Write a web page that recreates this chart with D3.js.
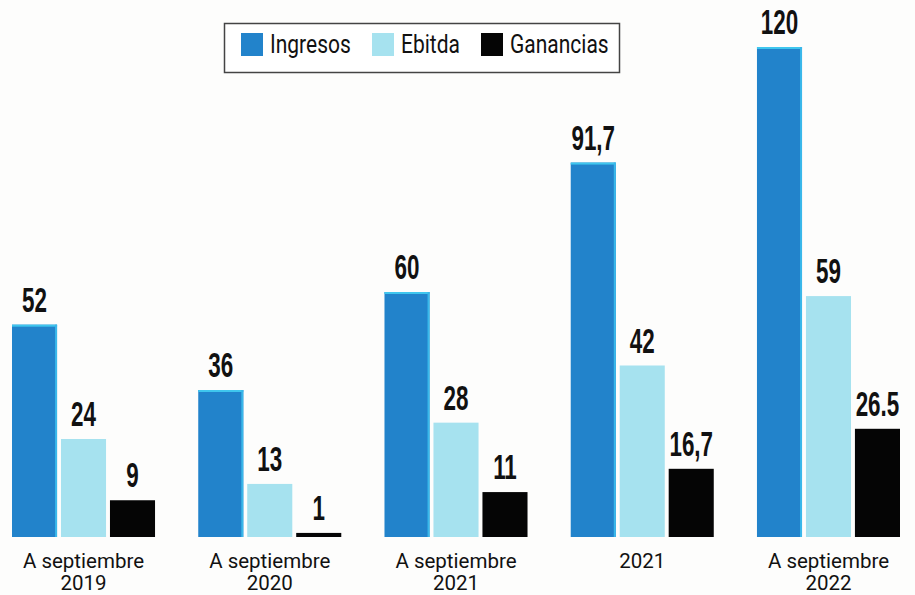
<!DOCTYPE html>
<html><head><meta charset="utf-8">
<script src="https://cdn.jsdelivr.net/npm/d3@7"></script>
<style>html,body{margin:0;padding:0;background:#fdfdfc;}svg{display:block;}</style>
</head><body>
<svg id="c" width="915" height="595"></svg>
<script>
const categories = ["A septiembre|2019","A septiembre|2020","A septiembre|2021","2021","A septiembre|2022"];
const seriesNames = ["Ingresos","Ebitda","Ganancias"];
const ingresos = [52, 36, 60, 91.7, 120];
const ebitda = [24, 13, 28, 42, 59];
const ganancias = [9, 1, 11, 16.7, 26.5];
const ingresosLabels = ["52","36","60","91,7","120"];
const ebitdaLabels = ["24","13","28","42","59"];
const gananciasLabels = ["9","1","11","16,7","26.5"];
const colors = ["#2283cb","#a6e2ef","#050505"];

const values = [ingresos, ebitda, ganancias];
const labels = [ingresosLabels, ebitdaLabels, gananciasLabels];

const svg = d3.select("#c");
const x0 = d3.scaleBand().domain(categories).range([12, 900]).paddingInner(0.232).paddingOuter(0);
const x1 = d3.scaleBand().domain(seriesNames).range([0, x0.bandwidth()]).paddingInner(0.08);
const y = d3.scaleLinear().domain([0, 120]).range([537, 47]);

const groups = svg.selectAll("g.grp").data(categories).join("g")
  .attr("class","grp").attr("transform", d => `translate(${x0(d)},0)`);

groups.each(function(cat, i) {
  const g = d3.select(this);
  seriesNames.forEach((s, j) => {
    const v = values[j][i];
    g.append("rect")
      .attr("x", x1(s)).attr("width", x1.bandwidth())
      .attr("y", y(v)).attr("height", y(0) - y(v))
      .attr("fill", colors[j]);
    if (j === 0) {
      g.append("rect").attr("x", x1(s)).attr("width", x1.bandwidth())
        .attr("y", y(v)).attr("height", 2).attr("fill", "#3fc6ee");
      g.append("rect").attr("x", x1(s) + x1.bandwidth() - 2).attr("width", 2)
        .attr("y", y(v)).attr("height", y(0) - y(v)).attr("fill", "#3ab8ea");
    }
    g.append("text")
      .attr("transform", `translate(${x1(s) + x1.bandwidth()/2},${y(v) - 13}) scale(0.64,1)`)
      .attr("text-anchor","middle")
      .attr("font-family","Liberation Sans, Arial, sans-serif")
      .attr("font-weight","bold").attr("font-size", 35)
      .attr("fill","#111")
      .text(labels[j][i]);
  });
  const lines = cat.split("|");
  lines.forEach((ln, k) => {
    g.append("text")
      .attr("x", x0.bandwidth()/2).attr("y", 568 + k*22)
      .attr("text-anchor","middle")
      .attr("font-family","Roboto, sans-serif").attr("font-size", 20.5)
      .attr("fill","#111")
      .text(ln);
  });
});

// legend
const lg = svg.append("g");
lg.append("rect").attr("x",224.5).attr("y",23.5).attr("width",395).attr("height",49)
  .attr("fill","#fff").attr("stroke","#444").attr("stroke-width",1.5);
const legX = [241, 372, 481];
seriesNames.forEach((s, j) => {
  lg.append("rect").attr("x", legX[j]).attr("y", 33).attr("width", 22).attr("height", 23).attr("fill", colors[j]);
  lg.append("text")
    .attr("transform", `translate(${legX[j] + 29},53) scale(0.84,1)`)
    .attr("font-family","Roboto, sans-serif").attr("font-size", 25)
    .attr("fill","#111").text(s);
});
</script>
</body></html>
